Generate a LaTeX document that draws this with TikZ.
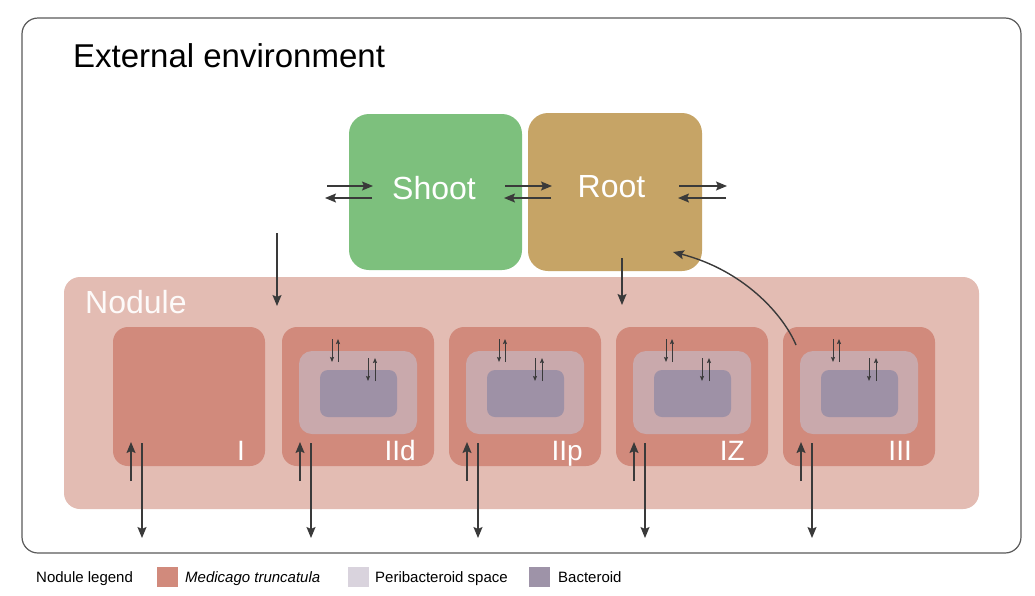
\documentclass[tikz,border=0pt]{standalone}
\usepackage{fontspec}
\setmainfont{Liberation Sans}
\usetikzlibrary{arrows.meta}
\definecolor{framec}{HTML}{5A5A5A}
\definecolor{shootc}{HTML}{7DC07D}
\definecolor{rootc}{HTML}{C6A466}
\definecolor{nodc}{HTML}{E3BCB3}
\definecolor{medc}{HTML}{D18A7C}
\definecolor{peric}{HTML}{C9A9AC}
\definecolor{bacc}{HTML}{9E91A6}
\definecolor{legperic}{HTML}{D9D3DD}
\definecolor{legbacc}{HTML}{9E93A8}
\definecolor{arrc}{HTML}{3A3A3A}
\tikzset{
  organ/.style={rounded corners=20pt, inner sep=0pt},
  medbox/.style={fill=medc, rounded corners=15pt, minimum width=152pt, minimum height=139pt, inner sep=0pt},
  peribox/.style={fill=peric, rounded corners=13pt, minimum width=118pt, minimum height=83pt, inner sep=0pt},
  bacbox/.style={fill=bacc, rounded corners=8pt, minimum width=77pt, minimum height=47pt, inner sep=0pt},
  bigarr/.style={draw=arrc, line width=1.4pt, -{Stealth[length=11pt,width=9pt,inset=2pt]}},
  smallarr/.style={draw=arrc, line width=0.9pt, -{Stealth[length=5pt,width=4pt,inset=0.8pt]}},
  bigtext/.style={font=\fontsize{32}{36}\selectfont, text=white},
  stagetext/.style={font=\fontsize{28}{32}\selectfont, text=white, anchor=base east, inner sep=0pt},
  legtext/.style={font=\fontsize{15}{18}\selectfont, anchor=base west, inner sep=0pt},
  swatch/.style={minimum width=21pt, minimum height=20pt, inner sep=0pt}
}
\begin{document}
\begin{tikzpicture}[x=1pt,y=-1pt]
\useasboundingbox (0,0) rectangle (1035,595);
\fill[white] (0,0) rectangle (1035,595);
% environment frame
\node[draw=framec, line width=1.2pt, rounded corners=16pt, minimum width=999pt, minimum height=535pt, inner sep=0pt] (env) at (521.5,285.5) {};
\node[font=\fontsize{33}{38}\selectfont, anchor=base west, inner sep=0pt] (envlab) at (73,67) {External environment};
% shoot and root
\node[organ, fill=shootc, minimum width=173pt, minimum height=156pt] (shoot) at (435.5,192) {};
\node[organ, fill=rootc, minimum width=174pt, minimum height=158pt] (root) at (615,192) {};
\node[bigtext] (shootlab) at (434,188) {Shoot};
\node[bigtext] (rootlab) at (611.5,187) {Root};
% nodule
\node[fill=nodc, rounded corners=16pt, minimum width=915pt, minimum height=232pt, inner sep=0pt] (nod) at (521.5,393) {};
\node[font=\fontsize{32}{36}\selectfont, text=white!92!nodc, anchor=base west, inner sep=0pt] (nodlab) at (85,313) {Nodule};
% arrows between compartments
\coordinate (a1s) at (327,186); \coordinate (a1e) at (373,186);
\coordinate (a2s) at (372,198); \coordinate (a2e) at (325,198);
\coordinate (a3s) at (505,186); \coordinate (a3e) at (552,186);
\coordinate (a4s) at (551,198); \coordinate (a4e) at (504,198);
\coordinate (a5s) at (679,186); \coordinate (a5e) at (727,186);
\coordinate (a6s) at (726,198); \coordinate (a6e) at (678,198);
\draw[bigarr] (a1s) -- (a1e);
\draw[bigarr] (a2s) -- (a2e);
\draw[bigarr] (a3s) -- (a3e);
\draw[bigarr] (a4s) -- (a4e);
\draw[bigarr] (a5s) -- (a5e);
\draw[bigarr] (a6s) -- (a6e);
\coordinate (d1s) at (277,233); \coordinate (d1e) at (277,306);
\coordinate (d2s) at (622,258); \coordinate (d2e) at (622,305);
\draw[bigarr] (d1s) -- (d1e);
\draw[bigarr] (d2s) -- (d2e);
% stages
\foreach \nm/\lab/\L/\off in {I/I/113/20, IId/IId/282/18, IIp/IIp/449/18, IZ/IZ/616/23, III/III/783/23}{
  \node[medbox] (b\nm) at (\L+76,396.5) {};
  \node[stagetext] (l\nm) at (\L+152-\off,460) {\lab};
  \coordinate (u\nm s) at (\L+18,481); \coordinate (u\nm e) at (\L+18,442);
  \coordinate (o\nm s) at (\L+29,443); \coordinate (o\nm e) at (\L+29,538);
  \draw[bigarr] (u\nm s) -- (u\nm e);
  \draw[bigarr] (o\nm s) -- (o\nm e);
}
\foreach \nm/\L in {IId/282, IIp/449, IZ/616, III/783}{
  \node[peribox] (p\nm) at (\L+76,392.5) {};
  \node[bacbox] (c\nm) at (\L+76.5,393.5) {};
  \coordinate (s1\nm a) at (\L+50,339); \coordinate (s1\nm b) at (\L+50,362);
  \coordinate (s2\nm a) at (\L+56,362); \coordinate (s2\nm b) at (\L+56,339);
  \coordinate (s3\nm a) at (\L+86,358); \coordinate (s3\nm b) at (\L+86,381);
  \coordinate (s4\nm a) at (\L+93,381); \coordinate (s4\nm b) at (\L+93,358);
  \draw[smallarr] (s1\nm a) -- (s1\nm b);
  \draw[smallarr] (s2\nm a) -- (s2\nm b);
  \draw[smallarr] (s3\nm a) -- (s3\nm b);
  \draw[smallarr] (s4\nm a) -- (s4\nm b);
}
% feedback from III to root
\coordinate (fbs) at (796,345);
\coordinate (fbe) at (673,252);
\draw[bigarr] (fbs) .. controls (783,314) and (743,270) .. (fbe);
% legend
\node[legtext] (leg) at (36,582) {Nodule legend};
\node[swatch, fill=medc] (sw1) at (167.5,577) {};
\node[legtext] (lt1) at (185,582) {\itshape Medicago truncatula};
\node[swatch, fill=legperic] (sw2) at (358,577) {};
\node[legtext] (lt2) at (375,582) {Peribacteroid space};
\node[swatch, fill=legbacc] (sw3) at (539,577) {};
\node[legtext] (lt3) at (558,582) {Bacteroid};
\end{tikzpicture}
\end{document}
